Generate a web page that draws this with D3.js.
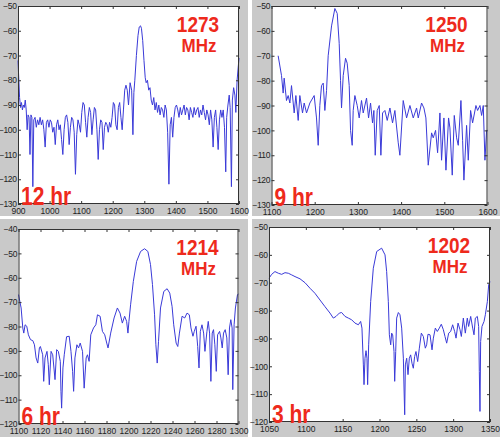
<!DOCTYPE html>
<html>
<head>
<meta charset="utf-8">
<script src="https://cdn.jsdelivr.net/npm/d3@7"></script>
<style>
  body { margin: 0; background: #fff; }
  svg { display: block; }
</style>
</head>
<body>
<div id="chart"></div>
<script>
// spectra (MHz, dB)
var freq12 = [900,902,905,908,911,914,917,920,923,926,929,932,935,938,941,944,947,950,954,958,962,966,970,974,978,982,986,990,994,998,1002,1006,1010,1014,1018,1022,1026,1030,1034,1038,1042,1046,1050,1054,1058,1062,1066,1070,1074,1078,1082,1086,1090,1094,1098,1102,1106,1110,1114,1118,1122,1126,1130,1134,1138,1142,1146,1150,1154,1158,1162,1166,1170,1174,1178,1182,1186,1190,1194,1198,1202,1206,1210,1214,1218,1222,1226,1230,1234,1238,1242,1246,1250,1255,1260,1264,1267,1270,1275,1280,1284,1288,1291,1295,1299,1303,1306,1310,1314,1318,1322,1326,1330,1334,1338,1342,1346,1350,1354,1358,1362,1366,1370,1374,1378,1382,1386,1390,1394,1398,1402,1406,1410,1414,1418,1422,1426,1430,1434,1438,1442,1446,1450,1454,1458,1462,1466,1470,1474,1478,1482,1486,1490,1494,1498,1502,1506,1510,1514,1518,1522,1526,1530,1534,1538,1542,1546,1550,1554,1558,1561,1565,1569,1572,1576,1579,1583,1587,1590,1594,1598,1600];
var db12 = [-72,-78,-87,-91,-89,-92,-90,-91,-88,-92,-100,-94,-95,-110,-94,-95,-123,-96,-95,-99,-96,-98,-95,-98,-96,-100,-107,-97,-96,-99,-96,-97,-101,-99,-106,-98,-96,-100,-98,-104,-110,-100,-95,-94,-97,-106,-99,-95,-96,-101,-118,-102,-96,-98,-101,-93,-89,-90,-97,-103,-95,-91,-93,-102,-96,-91,-92,-100,-112,-100,-96,-97,-108,-99,-97,-98,-101,-97,-99,-95,-89,-90,-98,-100,-91,-89,-95,-100,-92,-84,-82,-84,-90,-81,-84,-102,-85,-80,-70,-62,-58.5,-58,-59,-64,-72,-79,-81,-80,-84,-83,-88,-90,-87,-92,-89,-93,-90,-94,-91,-92,-95,-90,-92,-101,-122,-98,-95,-103,-95,-91,-90,-92,-95,-91,-94,-92,-90,-94,-91,-92,-96,-91,-93,-95,-91,-94,-92,-91,-95,-92,-94,-90,-93,-96,-92,-94,-98,-92,-96,-107,-95,-92,-99,-108,-96,-92,-95,-92,-99,-117,-95,-90,-86,-91,-123,-88,-83,-86,-93,-80,-74,-71];

var freq9 = [1115.4,1123.2,1127,1129.3,1134.7,1138.6,1142.5,1146.3,1152.5,1156.4,1161.8,1165.6,1171.8,1175.7,1181.1,1188.8,1198.8,1204.2,1208.1,1211.9,1215.8,1219.7,1223.5,1227.4,1231.2,1239,1246.7,1252.1,1256.7,1259.8,1262.1,1266,1271.4,1275.2,1279.9,1283,1286.8,1289.1,1293,1298.4,1303,1308.4,1312.3,1320,1324.7,1329.3,1333.9,1337,1340.1,1344.7,1349.4,1353.2,1357.1,1362.5,1367.9,1374.1,1380.2,1385.6,1393.4,1397.2,1404.9,1412.7,1420.4,1428.1,1435.8,1439.7,1447.4,1452.8,1457.4,1462.8,1470.6,1474.4,1479.8,1484.5,1489.9,1493.7,1499.1,1503.8,1509.9,1513,1518.4,1523.1,1528.5,1532.3,1538.5,1542.4,1545.4,1551.6,1555.5,1560.9,1565.5,1573.2,1577.1,1582.5,1586.4,1590.2,1594.1,1597.9,1600];
var db9 = [-70,-78,-85,-79,-88,-86,-89,-82,-93,-86,-96,-86,-93,-89,-93,-89,-86,-95,-106,-90,-82,-81,-92,-84,-70,-58,-51,-53,-65,-80,-91,-78,-71,-73,-82,-100,-106,-92,-86,-90,-95,-88,-93,-87,-95,-89,-97,-92,-110,-92,-90,-110,-93,-92,-96,-91,-97,-92,-105,-110,-88,-95,-90,-95,-91,-95,-89,-91,-95,-114,-101,-103,-100,-109,-93,-112,-95,-116,-95,-99,-118,-94,-103,-106,-88,-104,-120,-98,-112,-92,-97,-90,-92,-90,-94,-90,-112,-100,-100];

var freq6 = [1100,1102.4,1103.9,1104.8,1106,1107.5,1109,1110.9,1113,1114.5,1116,1117.5,1119,1119.9,1122,1122.9,1124.1,1125.9,1127.1,1128,1129.6,1131.1,1133.2,1134.7,1136.2,1138,1138.6,1139.2,1140.4,1141.6,1143.7,1146.1,1147.7,1149.2,1150.1,1151.3,1153.1,1154.6,1156.1,1158.2,1159.7,1161.5,1162.7,1164.2,1165.7,1168.2,1170.3,1171.8,1174.2,1176.3,1178.4,1180.2,1181.4,1183.8,1186.9,1189.9,1192.3,1194.4,1196.5,1198.3,1199.5,1200.4,1201.9,1204.4,1207.4,1211,1214.6,1217.6,1220,1221.8,1223.7,1224.9,1226.1,1227.3,1229.1,1232.1,1235.1,1237.5,1239.6,1241.1,1243.3,1244.8,1246.3,1248.7,1251.1,1253.2,1255.3,1256.8,1258.6,1259.8,1261.4,1262.9,1264.1,1265.3,1266.8,1268.3,1269.5,1271.3,1272.5,1273.7,1274.9,1276.1,1277.3,1278.5,1279.8,1281,1282.8,1284,1285.2,1286.4,1287.9,1289.4,1290.6,1291.8,1293,1294.2,1294.8,1296,1297.2,1299.1,1300];
var db6 = [-66.9,-72.4,-80.6,-82.7,-79.3,-79.9,-83.4,-85.4,-85.8,-87.5,-92.9,-95,-88.8,-88.2,-91.6,-102.5,-92.9,-90.2,-95.7,-103.9,-90.2,-91.6,-101.8,-89.5,-90.2,-94.3,-106.6,-113.5,-97,-91.6,-84.2,-84,-90.2,-98.4,-106.6,-92.9,-87.5,-88.8,-86.8,-90.2,-105.3,-92.9,-91.6,-94.3,-83.4,-80.6,-79.3,-75.2,-75.8,-82,-83.4,-86.8,-88.8,-82.7,-76.5,-72.4,-74.5,-78.6,-75.8,-77.9,-82.7,-77.9,-71.1,-61.5,-53.3,-49.2,-48.1,-49.2,-54.6,-62.8,-75.2,-87.5,-95,-86.1,-72.4,-65.6,-64.5,-66.3,-71.7,-79.3,-86.8,-88.2,-82.7,-75.8,-76.5,-74.5,-75.2,-80.6,-84,-82,-79.9,-88.2,-97,-82,-79.3,-82.7,-90.2,-82,-77.9,-82.7,-102.5,-82.7,-81.3,-87.5,-98.4,-83.4,-82,-84.7,-88.8,-82.7,-81.3,-84.7,-99.8,-80.6,-77.2,-80.6,-105.9,-79.3,-72.4,-66.9,-66.7];

var freq3 = [1050,1053.6,1058.1,1062.7,1067.2,1071.7,1076.2,1080.8,1085.3,1092.1,1098.9,1105.7,1112.4,1119.2,1126,1132.8,1137.3,1141,1145.5,1148.6,1153.2,1157.7,1162.2,1166.7,1171.3,1174.4,1176.2,1178.1,1179,1180.3,1181.7,1183,1183.9,1185.3,1188,1191.6,1196.2,1202.9,1207.5,1209.7,1212,1213.4,1215.2,1216.5,1217.9,1219.7,1220.6,1222,1223.3,1225.6,1227.8,1230.1,1232.4,1233.3,1234.2,1235.1,1236.9,1238.7,1240.5,1242.3,1244.1,1245.9,1247.7,1249.5,1251.8,1254.1,1256.8,1259.5,1262.2,1264,1265.8,1268.6,1271.3,1273.1,1275.8,1278.5,1281.2,1283.9,1286.7,1288.9,1291.2,1293.9,1296.6,1299.3,1302,1303.9,1306.6,1309.3,1311.1,1313.8,1316.5,1319.2,1321,1323.8,1326.5,1328.3,1330.1,1332.8,1334.6,1335.5,1336.4,1337.3,1339.1,1341.9,1343.7,1346.4,1348.2,1350];
var db3 = [-68.4,-67,-66,-66.6,-67,-66.4,-66.6,-67.2,-67.8,-68.6,-70,-72,-73.8,-76.2,-78.6,-80.9,-82.7,-82.1,-80.9,-80.7,-82.1,-82.7,-83.3,-84.5,-85.1,-83.9,-86.3,-99.5,-106.6,-97.1,-94.4,-97.1,-106.6,-92.3,-76.8,-64.8,-58.8,-57.6,-60,-66,-76.8,-88.7,-92.3,-88.1,-88.7,-94.7,-105.4,-94.7,-82.7,-80.7,-81.5,-86.3,-97.1,-107.8,-117.4,-99.5,-97.1,-103,-97.1,-95.9,-98.9,-100.7,-96.5,-94.7,-98.3,-93.5,-88.1,-89.3,-93.5,-92.3,-88.5,-88.7,-94.1,-89.9,-86.3,-87.5,-86.3,-84.9,-86.9,-89.3,-91.7,-88.1,-87.5,-85.1,-87.5,-89.9,-84.5,-86.9,-89.3,-82.7,-88.1,-82.7,-85.7,-82.1,-86.3,-88.7,-82.7,-82.1,-85.7,-101.9,-116.2,-91.1,-85.7,-83.9,-81.5,-76.8,-70.8,-69.6];

// tick values and labels
var xTicks12 = [900,1000,1100,1200,1300,1400,1500,1600];
var xTicks9 = [1100,1200,1300,1400,1500,1600];
var xTicks6 = [1100,1120,1140,1160,1180,1200,1220,1240,1260,1280,1300];
var xTicks3 = [1050,1100,1150,1200,1250,1300,1350];
var yTicksTop = [-50,-60,-70,-80,-90,-100,-110,-120,-130];
var yTicks6 = [-40,-50,-60,-70,-80,-90,-100,-110,-120];
var yTicks3 = [-50,-60,-70,-80,-90,-100,-110,-120];
var peakLabels = ["1273","1250","1214","1202"];
var hourLabels = ["12 hr","9 hr","6 hr","3 hr"];

var width = 500, height = 437;
var svg = d3.select("#chart").append("svg")
    .attr("width", width)
    .attr("height", height);

svg.append("rect").attr("width", width).attr("height", height).attr("fill", "#fff");

var tickFont = "'Liberation Sans Narrow', 'Liberation Sans', Arial, sans-serif";
var fmt = d3.format("d");

function drawPanel(tile, box, freq, db, xTicks, yTicks, peak, hour) {
  // grey figure tile
  svg.append("rect")
    .attr("x", tile.x).attr("y", tile.y)
    .attr("width", tile.w).attr("height", tile.h)
    .attr("fill", "#c9c9c9");

  var x = d3.scaleLinear()
    .domain([xTicks[0], xTicks[xTicks.length - 1]])
    .range([box.left, box.right]);
  var y = d3.scaleLinear()
    .domain([yTicks[yTicks.length - 1], yTicks[0]])
    .range([box.bottom, box.top]);

  svg.append("rect")
    .attr("x", box.left).attr("y", box.top)
    .attr("width", box.right - box.left).attr("height", box.bottom - box.top)
    .attr("fill", "#fff");

  var line = d3.line()
    .x(function(d, i) { return x(freq[i]); })
    .y(function(d) { return y(d); });

  svg.append("path")
    .datum(db)
    .attr("d", line)
    .attr("fill", "none")
    .attr("stroke", "#3a3ad8")
    .attr("stroke-width", 1);

  // axes, ticks pointing inward
  var gx = svg.append("g")
    .attr("transform", "translate(0," + box.bottom + ")")
    .call(d3.axisBottom(x).tickValues(xTicks).tickFormat(fmt).tickSizeInner(-3).tickSizeOuter(0).tickPadding(4));
  var gy = svg.append("g")
    .attr("transform", "translate(" + box.left + ",0)")
    .call(d3.axisLeft(y).tickValues(yTicks).tickFormat(fmt).tickSizeInner(-3).tickSizeOuter(0).tickPadding(1.5));
  var gt = svg.append("g")
    .attr("transform", "translate(0," + box.top + ")")
    .call(d3.axisTop(x).tickValues(xTicks).tickSizeInner(-3).tickSizeOuter(0).tickFormat(""));
  var gr = svg.append("g")
    .attr("transform", "translate(" + box.right + ",0)")
    .call(d3.axisRight(y).tickValues(yTicks).tickSizeInner(-3).tickSizeOuter(0).tickFormat(""));

  [gx, gy, gt, gr].forEach(function(g) {
    g.select(".domain").remove();
    g.selectAll("line").attr("stroke", "#333");
    g.selectAll("text")
      .attr("fill", "#222")
      .style("font-family", tickFont)
      .style("font-size", "8.5px");
  });
  gy.selectAll("text").style("letter-spacing", "-0.4px");

  svg.append("rect")
    .attr("x", box.left + 0.5).attr("y", box.top + 0.5)
    .attr("width", box.right - box.left - 1).attr("height", box.bottom - box.top - 1)
    .attr("fill", "none")
    .attr("stroke", "#333")
    .attr("stroke-width", 1);

  // red annotations
  var cx = box.right - 41;
  svg.append("text")
    .attr("transform", "translate(" + cx + "," + (box.top + 26) + ") scale(1,1.15)")
    .attr("text-anchor", "middle")
    .style("font-family", "Liberation Sans, Arial, sans-serif")
    .style("font-weight", "bold")
    .style("font-size", "19px")
    .attr("fill", "#ee2a1c")
    .text(peak);
  svg.append("text")
    .attr("transform", "translate(" + (cx + 1) + "," + (box.top + 46) + ") scale(1,1.1)")
    .attr("text-anchor", "middle")
    .style("font-family", "Liberation Sans, Arial, sans-serif")
    .style("font-weight", "bold")
    .style("font-size", "17px")
    .attr("fill", "#ee2a1c")
    .text("MHz");
  svg.append("text")
    .attr("transform", "translate(" + (box.left + 3) + "," + (box.bottom + 1) + ") scale(1,1.2)")
    .style("font-family", "Liberation Sans, Arial, sans-serif")
    .style("font-weight", "bold")
    .style("font-size", "21px")
    .attr("fill", "#ee2a1c")
    .text(hour);
}

drawPanel({x: 0, y: 0, w: 248, h: 216}, {left: 18, right: 239, top: 6, bottom: 204},
  freq12, db12, xTicks12, yTicksTop, peakLabels[0], hourLabels[0]);
drawPanel({x: 252, y: 0, w: 248, h: 216}, {left: 271.5, right: 487.5, top: 6, bottom: 205},
  freq9, db9, xTicks9, yTicksTop, peakLabels[1], hourLabels[1]);
drawPanel({x: 0, y: 219, w: 248, h: 218}, {left: 18.5, right: 238.5, top: 229, bottom: 424},
  freq6, db6, xTicks6, yTicks6, peakLabels[2], hourLabels[2]);
drawPanel({x: 252, y: 219, w: 248, h: 218}, {left: 269, right: 490, top: 227, bottom: 422},
  freq3, db3, xTicks3, yTicks3, peakLabels[3], hourLabels[3]);
</script>
</body>
</html>
